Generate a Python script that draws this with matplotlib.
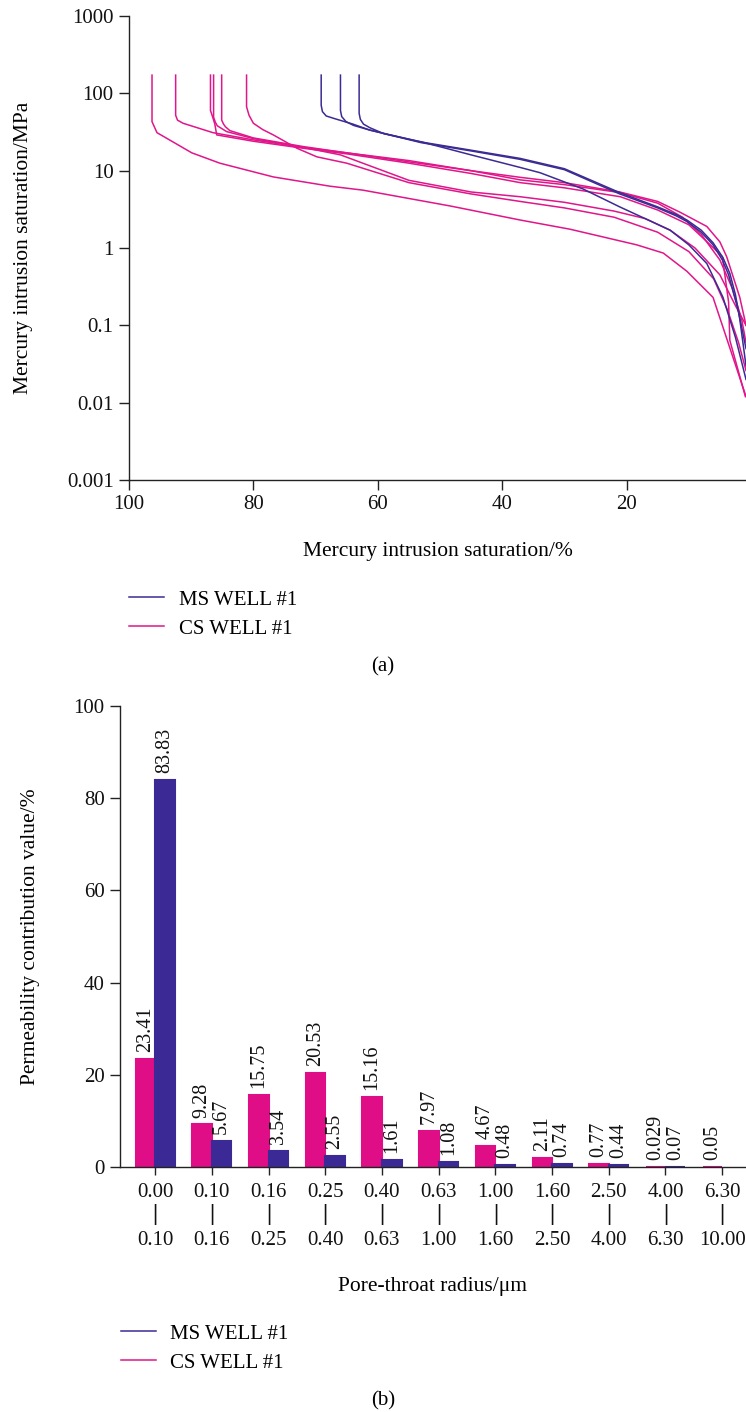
import numpy as np
import matplotlib
matplotlib.use("Agg")
import matplotlib.pyplot as plt
from matplotlib.transforms import blended_transform_factory
from matplotlib.lines import Line2D

plt.rcParams['font.family'] = ['Liberation Serif', 'DejaVu Serif']
FS = 15

PINK = '#e0168a'
BLUE = '#3b2b93'

# capillary pressure curves: saturation (%) vs pressure (MPa)
ms_sat = [
    [69.1, 69.1, 68.9, 68.3, 67.1, 64.0, 61.3, 53.2, 45.2, 37.1, 30, 21.1, 15, 12, 10.3, 8, 6.1, 4.5, 3.4, 2.5, 1.8, 0.8],
    [66.0, 66.0, 65.8, 65.1, 63.9, 61.3, 53.0, 45.0, 37.1, 30, 21.1, 15, 12, 10.3, 8, 6.1, 4.6, 3.6, 2.0, 0.8],
    [63.0, 63.0, 62.8, 62.3, 61.3, 59.0, 53.0, 45.0, 37.1, 33.9, 27, 21.1, 16, 13.0, 10, 7.1, 4.5, 2.5, 0.8],
]
ms_pc = [
    [172, 70, 58, 51, 47.5, 40, 33.5, 23.6, 18.5, 14.4, 10.6, 5.2, 3.4, 2.7, 2.3, 1.7, 1.17, 0.75, 0.47, 0.25, 0.12, 0.03],
    [172, 60, 50, 43, 38.5, 33.5, 23.0, 18.0, 14.0, 10.3, 5.0, 3.3, 2.6, 2.2, 1.6, 1.1, 0.7, 0.45, 0.15, 0.05],
    [172, 55, 46, 40, 36, 30, 23.6, 16.0, 11.0, 9.4, 5.8, 3.4, 2.2, 1.7, 1.1, 0.63, 0.23, 0.07, 0.02],
]
cs_sat = [
    [96.3, 96.3, 95.5, 89.9, 85.4, 76.8, 67.7, 62.4, 48.4, 37.1, 29.1, 18.4, 14.1, 10.3, 6.1, 0.8],
    [92.5, 92.5, 92.2, 91.3, 86.5, 80, 72, 65, 55, 45, 37.1, 30, 21, 15, 11, 8, 5, 3, 1.5, 0.8],
    [86.9, 86.9, 86.5, 86.2, 85.9, 80, 72, 65, 55, 45, 37.1, 30, 21, 15, 10, 6, 4.6, 3.6, 3.4, 0.9],
    [86.4, 86.4, 86.1, 85.8, 84.3, 80, 72, 66, 55, 45, 37.1, 30, 22, 17, 13, 9, 5, 2.5, 0.8],
    [85.1, 85.1, 84.8, 84.5, 83.8, 80, 72, 65, 55, 45, 37.1, 30, 21.1, 15, 11.4, 7.1, 5, 3.9, 1.8, 0.8],
    [81.1, 81.1, 80.7, 80, 78.5, 76.8, 73, 69.8, 65, 55, 45, 37.1, 30, 22, 15, 10, 6, 3.8, 2, 0.8],
]
cs_pc = [
    [172, 43, 31, 17, 12.5, 8.3, 6.3, 5.6, 3.5, 2.3, 1.75, 1.1, 0.86, 0.5, 0.23, 0.012],
    [172, 52, 45, 41, 31, 25, 20, 17, 13.5, 10.0, 7.6, 6.6, 5.2, 3.8, 2.5, 1.5, 0.7, 0.3, 0.12, 0.06],
    [172, 60, 48, 40, 29, 24, 19.5, 16.5, 12.5, 9.2, 7.0, 6.0, 4.6, 3.1, 2.0, 1.0, 0.77, 0.2, 0.064, 0.012],
    [172, 49, 42, 38, 32, 26, 20, 16, 7.5, 5.3, 4.6, 3.9, 3.0, 2.4, 1.7, 1.0, 0.45, 0.18, 0.1],
    [172, 45, 40, 37, 33, 26.5, 20.5, 17, 13, 10, 8.2, 7.0, 5.3, 4.0, 2.9, 1.9, 1.2, 0.77, 0.23, 0.1],
    [172, 67, 52, 41, 34, 29, 19.5, 15.1, 12.5, 7.0, 5.0, 4.0, 3.3, 2.5, 1.6, 0.9, 0.4, 0.16, 0.06, 0.026],
]
pc_ticks = [0.001, 0.01, 0.1, 1, 10, 100, 1000]
pc_ticklabels = ['0.001', '0.01', '0.1', '1', '10', '100', '1000']

# permeability contribution per pore-throat radius class
radius_lo = ['0.00', '0.10', '0.16', '0.25', '0.40', '0.63', '1.00', '1.60', '2.50', '4.00', '6.30']
radius_hi = ['0.10', '0.16', '0.25', '0.40', '0.63', '1.00', '1.60', '2.50', '4.00', '6.30', '10.00']
cs_perm = [23.41, 9.28, 15.75, 20.53, 15.16, 7.97, 4.67, 2.11, 0.77, 0.029, 0.05]
cs_perm_txt = ['23.41', '9.28', '15.75', '20.53', '15.16', '7.97', '4.67', '2.11', '0.77', '0.029', '0.05']
ms_perm = [83.83, 5.67, 3.54, 2.55, 1.61, 1.08, 0.48, 0.74, 0.44, 0.07]
ms_perm_txt = ['83.83', '5.67', '3.54', '2.55', '1.61', '1.08', '0.48', '0.74', '0.44', '0.07']

W, H = 746, 1412
fig = plt.figure(figsize=(W / 100, H / 100), dpi=100)


def style_axes(ax):
    for s in ['top', 'right']:
        ax.spines[s].set_visible(False)
    for s in ['left', 'bottom']:
        ax.spines[s].set_linewidth(1.0)
        ax.spines[s].set_color('#222222')
    ax.tick_params(direction='out', length=7, width=1.0, colors='#222222',
                   labelcolor='#111111', labelsize=FS)


# ---- (a) capillary pressure curves ----
ax1 = fig.add_axes([129 / W, 1 - 480 / H, 1 - 129 / W, 464 / H])
for x, y in zip(cs_sat, cs_pc):
    ax1.plot(x, y, color=PINK, lw=1.1)
for x, y in zip(ms_sat, ms_pc):
    ax1.plot(x, y, color=BLUE, lw=1.1)
ax1.set_yscale('log')
ax1.set_ylim(0.001, 1000)
ax1.set_xlim(100, 0.8)
ax1.set_yticks(pc_ticks)
ax1.set_yticklabels(pc_ticklabels)
ax1.minorticks_off()
ax1.set_xticks([100, 80, 60, 40, 20])
ax1.set_xticklabels(['100', '80', '60', '40', '20'])
style_axes(ax1)
ax1.tick_params(axis='x', pad=4)
ax1.tick_params(axis='y', pad=4)
ax1.set_ylabel('Mercury intrusion saturation/MPa', fontsize=FS + 0.5)
ax1.yaxis.set_label_coords(-0.155, 0.5)
ax1.set_xlabel('Mercury intrusion saturation/%', fontsize=FS + 0.5, va='top')
ax1.xaxis.set_label_coords(0.5, -0.133)

handles = [Line2D([], [], color=BLUE, lw=1.1), Line2D([], [], color=PINK, lw=1.1)]
fig.legend(handles, ['MS WELL #1', 'CS WELL #1'], loc='upper left',
           bbox_to_anchor=(129 / W, 1 - 590 / H), frameon=False, borderpad=0,
           borderaxespad=0, handlelength=1.7, handletextpad=0.7, labelspacing=0.45,
           fontsize=FS)
fig.text(383 / W, 1 - 667 / H, '(a)', ha='center', va='center', fontsize=FS)

# ---- (b) permeability contribution ----
ax2 = fig.add_axes([120 / W, 1 - 1167.3 / H, 1 - 120 / W, 461.6 / H])
idx = np.arange(len(radius_lo))
bw = 0.345
ax2.bar(idx - bw / 2, cs_perm, width=bw, color='#df0d86', edgecolor='#df0d86', lw=1.5)
ax2.bar(idx[:len(ms_perm)] + bw / 2, ms_perm, width=bw, color='#3b2a95',
        edgecolor='#3b2a95', lw=1.5)
for i, (v, t) in enumerate(zip(cs_perm, cs_perm_txt)):
    ax2.annotate(t, (i - bw / 2, v), xytext=(0, 5), textcoords='offset points',
                 rotation=90, ha='center', va='bottom', fontsize=FS - 0.5, color='#111111')
for i, (v, t) in enumerate(zip(ms_perm, ms_perm_txt)):
    ax2.annotate(t, (i + bw / 2, v), xytext=(0, 5), textcoords='offset points',
                 rotation=90, ha='center', va='bottom', fontsize=FS - 0.5, color='#111111')
ax2.set_xlim(-0.62, 10.42)
ax2.set_ylim(0, 100)
ax2.set_yticks([0, 20, 40, 60, 80, 100])
ax2.set_xticks(idx)
ax2.set_xticklabels(radius_lo)
style_axes(ax2)
ax2.tick_params(axis='x', length=6, pad=5)
ax2.tick_params(axis='y', pad=4)
trans = blended_transform_factory(ax2.transData, ax2.transAxes)
for i, t in enumerate(radius_hi):
    ax2.text(i, -0.1033, '|', transform=trans, ha='center', va='center',
             fontsize=17, fontweight='bold', color='#111111')
    ax2.text(i, -0.1575, t, transform=trans, ha='center', va='center',
             fontsize=FS, color='#111111')
ax2.set_ylabel('Permeability contribution value/%', fontsize=FS + 0.5)
ax2.yaxis.set_label_coords(-0.128, 0.5)
ax2.set_xlabel('Pore-throat radius/\u03bcm', fontsize=FS + 0.5, va='top')
ax2.xaxis.set_label_coords(0.5, -0.238)

fig.legend(handles, ['MS WELL #1', 'CS WELL #1'], loc='upper left',
           bbox_to_anchor=(120.5 / W, 1 - 1324 / H), frameon=False, borderpad=0,
           borderaxespad=0, handlelength=1.7, handletextpad=0.7, labelspacing=0.45,
           fontsize=FS)
fig.text(383 / W, 1 - 1401 / H, '(b)', ha='center', va='center', fontsize=FS)

fig.savefig('out.png', dpi=100)
